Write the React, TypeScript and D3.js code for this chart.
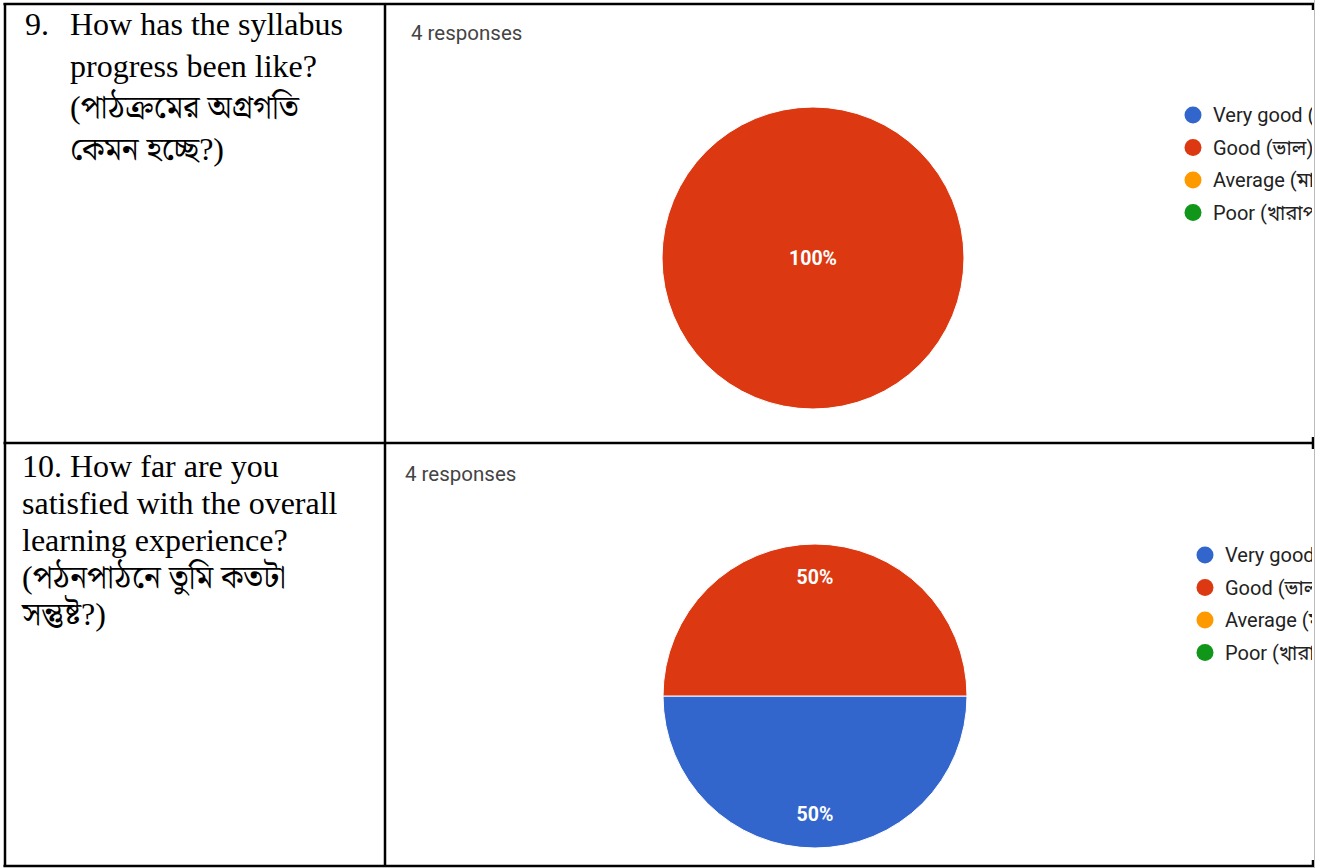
import React from "react";
import * as d3 from "d3";

const categories = ["Very good (খুব ভাল)", "Good (ভাল)", "Average (মাঝারি)", "Poor (খারাপ)"];
const colors = ["#3366cc", "#dc3912", "#ff9900", "#109618"];
const q9Values = [0, 4, 0, 0];
const q10Values = [2, 2, 0, 0];
const responsesLabel = "4 responses";
const q9Lines = ["How has the syllabus", "progress been like?", "(পাঠক্রমের অগ্রগতি", "কেমন হচ্ছে?)"];
const q10Lines = ["10. How far are you", "satisfied with the overall", "learning experience?", "(পঠনপাঠনে তুমি কতটা", "সন্তুষ্ট?)"];

const W = 1329;
const H = 868;
const serif = "'Liberation Serif', 'Times New Roman', 'Noto Serif Bengali', 'Noto Sans Bengali', serif";
const sans = "Roboto, Arial, 'Noto Sans Bengali', sans-serif";

function Pie({ values, cx, cy, r }: { values: number[]; cx: number; cy: number; r: number }) {
  const total = d3.sum(values);
  const pie = d3.pie<number>().sort(null).startAngle(Math.PI / 2).endAngle(Math.PI / 2 + 2 * Math.PI);
  const arcs = pie(values);
  const arc = d3.arc<d3.PieArcDatum<number>>().innerRadius(0).outerRadius(r);
  const labelArc = d3.arc<d3.PieArcDatum<number>>().innerRadius(r * 0.78).outerRadius(r * 0.78);
  return (
    <g transform={`translate(${cx},${cy})`}>
      {arcs.map((a, i) =>
        a.value > 0 ? (
          <path key={i} d={arc(a) || ""} fill={colors[i]} stroke="#fff" strokeWidth={1} />
        ) : null
      )}
      {arcs.map((a, i) => {
        if (a.value <= 0) return null;
        const frac = a.value / total;
        const [lx, ly] = frac >= 1 ? [0, 0] : labelArc.centroid(a);
        return (
          <text key={"l" + i} x={lx} y={ly} dy="0.35em" textAnchor="middle" fill="#fff"
            fontFamily={sans} fontSize={19.5} fontWeight={700}>
            {d3.format(".0%")(frac)}
          </text>
        );
      })}
    </g>
  );
}

function Legend({ x, y, clipId }: { x: number; y: number; clipId: string }) {
  const yScale = d3.scalePoint<string>().domain(categories).range([0, 97.5]);
  return (
    <g clipPath={`url(#${clipId})`}>
      {categories.map((c, i) => (
        <g key={c} transform={`translate(${x},${y + (yScale(c) || 0)})`}>
          <circle cx={0} cy={0} r={8.5} fill={colors[i]} />
          <text x={20} y={0} dy="0.35em" fontFamily={sans} fontSize={20} fill="#222">{c}</text>
        </g>
      ))}
    </g>
  );
}

export default function App() {
  const bw = 2.5;
  return (
    <svg width={W} height={H} style={{ position: "absolute", left: 0, top: 0, background: "#fff" }}>
      <defs>
        <clipPath id="clipLegend">
          <rect x={1000} y={0} width={312} height={H} />
        </clipPath>
      </defs>
      <rect x={0} y={0} width={W} height={H} fill="#fff" />

      {/* Question text cells */}
      <text x={25} y={35} fontFamily={serif} fontSize={32} fill="#000">9.</text>
      {q9Lines.map((t, i) => (
        <text key={t} x={70} y={35 + i * 41.5} fontFamily={serif} fontSize={32} fill="#000">{t}</text>
      ))}
      {q10Lines.map((t, i) => (
        <text key={t} x={22} y={477 + i * 37} fontFamily={serif} fontSize={32} fill="#000">{t}</text>
      ))}

      {/* Chart 1 */}
      <text x={411} y={40} fontFamily={sans} fontSize={20.5} fill="#444">{responsesLabel}</text>
      <Pie values={q9Values} cx={813} cy={258} r={151} />
      <Legend x={1193} y={115} clipId="clipLegend" />

      {/* Chart 2 */}
      <text x={405} y={481} fontFamily={sans} fontSize={20.5} fill="#444">{responsesLabel}</text>
      <Pie values={q10Values} cx={815} cy={696} r={152} />
      <Legend x={1205} y={555} clipId="clipLegend" />

      {/* Table borders */}
      <line x1={3.5} x2={1314} y1={4} y2={4} stroke="#000" strokeWidth={bw} />
      <line x1={3.5} x2={1314} y1={443} y2={443} stroke="#000" strokeWidth={bw} />
      <line x1={3.5} x2={1314} y1={866} y2={866} stroke="#000" strokeWidth={bw} />
      <line x1={5} x2={5} y1={3} y2={867} stroke="#000" strokeWidth={bw} />
      <line x1={385} x2={385} y1={3} y2={867} stroke="#000" strokeWidth={bw} />
      <line x1={1313} x2={1313} y1={3} y2={10} stroke="#000" strokeWidth={bw} />
      <line x1={1313} x2={1313} y1={437} y2={449} stroke="#000" strokeWidth={bw} />
      <line x1={1313} x2={1313} y1={860} y2={867} stroke="#000" strokeWidth={bw} />
      <line x1={1314.5} x2={1314.5} y1={0} y2={H} stroke="#bbb" strokeWidth={1} />
    </svg>
  );
}
